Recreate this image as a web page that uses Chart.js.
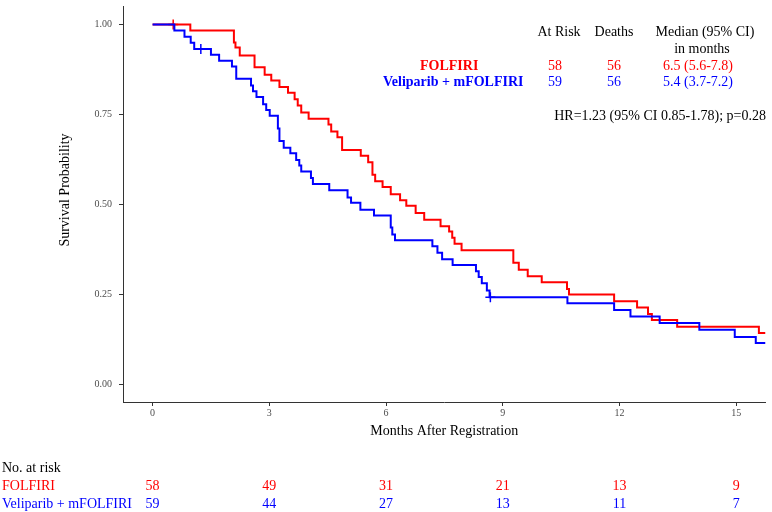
<!DOCTYPE html>
<html>
<head>
<meta charset="utf-8">
<script src="https://cdn.jsdelivr.net/npm/chart.js@4/dist/chart.umd.min.js"></script>
<style>
  body { margin: 0; background: #fff; }
  canvas { display: block; }
</style>
</head>
<body>
<canvas id="km" width="772" height="512"></canvas>
<script>
// KM curves: time (months) where the curve steps, survival after the step
const folfiriTimes = [0, 0.97, 2.09, 2.13, 2.24, 2.62, 2.88, 3.05, 3.26, 3.48, 3.65, 3.73, 3.82, 4.01, 4.52, 4.59, 4.75, 4.87, 5.35, 5.54, 5.65, 5.72, 5.91, 6.12, 6.36, 6.52, 6.76, 6.98, 7.40, 7.62, 7.70, 7.76, 7.94, 9.27, 9.41, 9.64, 10.00, 10.65, 10.70, 11.86, 12.45, 12.73, 12.83, 13.48, 15.58, 15.75];
const folfiriSurv = [1.000, 0.983, 0.950, 0.936, 0.914, 0.881, 0.860, 0.844, 0.826, 0.810, 0.792, 0.775, 0.755, 0.738, 0.722, 0.702, 0.686, 0.651, 0.635, 0.617, 0.582, 0.564, 0.548, 0.528, 0.511, 0.496, 0.476, 0.457, 0.439, 0.424, 0.407, 0.390, 0.372, 0.337, 0.318, 0.300, 0.283, 0.264, 0.249, 0.230, 0.213, 0.195, 0.178, 0.159, 0.142, 0.142];

const velipTimes = [0, 0.56, 0.82, 0.98, 1.07, 1.50, 1.71, 2.04, 2.15, 2.53, 2.58, 2.67, 2.84, 2.92, 3.01, 3.22, 3.26, 3.37, 3.54, 3.69, 3.77, 3.82, 4.07, 4.12, 4.54, 5.01, 5.10, 5.34, 5.69, 6.12, 6.16, 6.23, 7.19, 7.32, 7.44, 7.71, 8.31, 8.38, 8.46, 8.59, 8.66, 10.66, 11.86, 12.28, 13.03, 14.05, 14.96, 15.50, 15.75];
const velipSurv = [1.000, 0.983, 0.966, 0.949, 0.932, 0.916, 0.899, 0.883, 0.849, 0.830, 0.814, 0.798, 0.778, 0.762, 0.746, 0.711, 0.676, 0.657, 0.642, 0.623, 0.608, 0.591, 0.573, 0.556, 0.539, 0.519, 0.504, 0.485, 0.469, 0.435, 0.416, 0.400, 0.383, 0.365, 0.347, 0.331, 0.314, 0.298, 0.280, 0.260, 0.241, 0.225, 0.206, 0.188, 0.170, 0.151, 0.131, 0.114, 0.114];

// censored observations
const folfiriCensT = [0.53];
const folfiriCensS = [1.000];
const velipCensT = [1.24, 8.68];
const velipCensS = [0.932, 0.241];

// number at risk table
const riskTimes = [0, 3, 6, 9, 12, 15];
const folfiriRisk = [58, 49, 31, 21, 13, 9];
const velipRisk = [59, 44, 27, 13, 11, 7];

const RED = "#ff0000";
const BLUE = "#0000ff";
const SERIF = "'Liberation Serif', 'Times New Roman', serif";

function toPts(xs, ys) {
    return xs.map((x, i) => ({ x: x, y: ys[i] }));
}

const annotations = {
    id: "annotations",
    afterDraw(chart) {
        const ctx = chart.ctx;
        const xs = chart.scales.x;
        ctx.save();
        ctx.textBaseline = "middle";

        // y axis title
        ctx.save();
        ctx.translate(65, 190);
        ctx.rotate(-Math.PI / 2);
        ctx.font = "14px " + SERIF;
        ctx.fillStyle = "#000";
        ctx.textAlign = "center";
        ctx.fillText("Survival Probability", 0, 0);
        ctx.restore();

        // summary block, top right
        ctx.font = "14px " + SERIF;
        ctx.fillStyle = "#000";
        ctx.textAlign = "center";
        ctx.fillText("At Risk", 559, 32);
        ctx.fillText("Deaths", 614, 32);
        ctx.fillText("Median (95% CI)", 705, 32);
        ctx.fillText("in months", 702, 49);

        ctx.textAlign = "left";
        ctx.font = "bold 14px " + SERIF;
        ctx.fillStyle = RED;
        ctx.fillText("FOLFIRI", 420, 66);
        ctx.fillStyle = BLUE;
        ctx.fillText("Veliparib + mFOLFIRI", 383, 82);

        ctx.font = "14px " + SERIF;
        ctx.textAlign = "center";
        ctx.fillStyle = RED;
        ctx.fillText("58", 555, 66);
        ctx.fillText("56", 614, 66);
        ctx.fillText("6.5 (5.6-7.8)", 698, 66);
        ctx.fillStyle = BLUE;
        ctx.fillText("59", 555, 82);
        ctx.fillText("56", 614, 82);
        ctx.fillText("5.4 (3.7-7.2)", 698, 82);

        ctx.fillStyle = "#000";
        ctx.textAlign = "right";
        ctx.fillText("HR=1.23 (95% CI 0.85-1.78); p=0.28", 766, 116);

        // number at risk table
        ctx.textAlign = "left";
        ctx.fillStyle = "#000";
        ctx.fillText("No. at risk", 2, 468);
        ctx.fillStyle = RED;
        ctx.fillText("FOLFIRI", 2, 486);
        ctx.fillStyle = BLUE;
        ctx.fillText("Veliparib + mFOLFIRI", 2, 504);

        ctx.textAlign = "center";
        riskTimes.forEach((t, i) => {
            const px = xs.getPixelForValue(t);
            ctx.fillStyle = RED;
            ctx.fillText(String(folfiriRisk[i]), px, 486);
            ctx.fillStyle = BLUE;
            ctx.fillText(String(velipRisk[i]), px, 504);
        });
        ctx.restore();
    },
};

const config = {
    type: "scatter",
    data: {
        datasets: [
            {
                label: "Veliparib + mFOLFIRI",
                data: toPts(velipTimes, velipSurv),
                showLine: true,
                stepped: "before",
                borderColor: BLUE,
                borderWidth: 2,
                pointRadius: 0,
            },
            {
                label: "FOLFIRI",
                data: toPts(folfiriTimes, folfiriSurv),
                showLine: true,
                stepped: "before",
                borderColor: RED,
                borderWidth: 2,
                pointRadius: 0,
            },
            {
                label: "FOLFIRI censored",
                data: toPts(folfiriCensT, folfiriCensS),
                pointStyle: "cross",
                pointRadius: 5,
                borderColor: RED,
                borderWidth: 1.5,
                backgroundColor: RED,
            },
            {
                label: "Veliparib censored",
                data: toPts(velipCensT, velipCensS),
                pointStyle: "cross",
                pointRadius: 5,
                borderColor: BLUE,
                borderWidth: 1.5,
                backgroundColor: BLUE,
            },
        ],
    },
    options: {
        responsive: false,
        animation: false,
        devicePixelRatio: 1,
        layout: { padding: { top: 1, right: 3, left: 0, bottom: 70 } },
        plugins: {
            legend: { display: false },
            tooltip: { enabled: false },
        },
        scales: {
            x: {
                type: "linear",
                min: -0.76,
                max: 15.75,
                afterFit: (scale) => {
                    scale.height = 40;
                    scale.paddingLeft = 0;
                    scale.paddingRight = 0;
                },
                afterBuildTicks: (scale) => {
                    scale.ticks = riskTimes.map((v) => ({ value: v }));
                },
                grid: { drawOnChartArea: false, drawTicks: true, tickLength: 4, color: "#333", tickWidth: 1 },
                border: { display: true, color: "#333", width: 1 },
                ticks: {
                    padding: 1,
                    color: "#4d4d4d",
                    font: { family: SERIF, size: 10 },
                },
                title: {
                    display: true,
                    text: "Months After Registration",
                    color: "#000",
                    font: { family: SERIF, size: 14 },
                    padding: { top: 0, bottom: 2 },
                },
            },
            y: {
                min: -0.05,
                max: 1.05,
                afterFit: (scale) => {
                    scale.width = 123;
                    scale.paddingTop = 0;
                    scale.paddingBottom = 0;
                },
                afterBuildTicks: (scale) => {
                    scale.ticks = [0, 0.25, 0.5, 0.75, 1].map((v) => ({ value: v }));
                },
                grid: { drawOnChartArea: false, drawTicks: true, tickLength: 4, color: "#333", tickWidth: 1 },
                border: { display: true, color: "#333", width: 1 },
                ticks: {
                    padding: 7,
                    color: "#4d4d4d",
                    font: { family: SERIF, size: 10 },
                    callback: (v) => Number(v).toFixed(2),
                },
            },
        },
    },
    plugins: [annotations],
};

new Chart(document.getElementById("km"), config);
</script>
</body>
</html>
